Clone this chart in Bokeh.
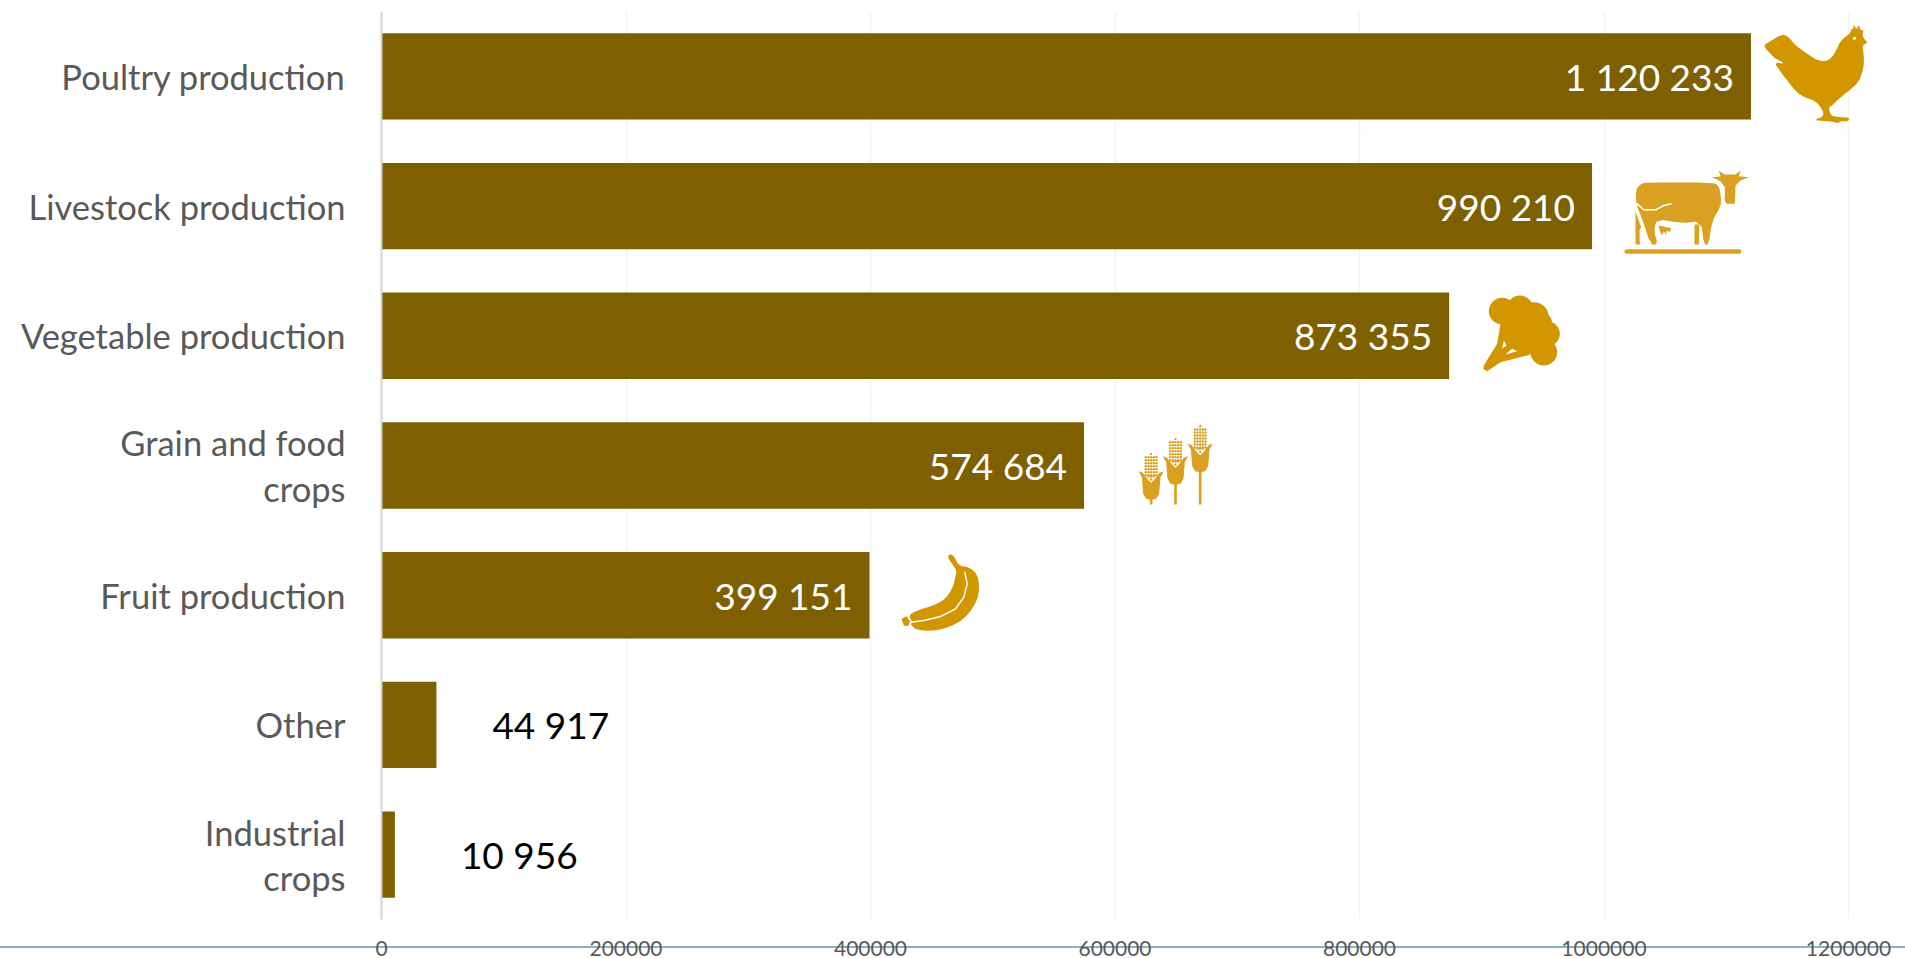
from bokeh.plotting import figure
from bokeh.models import FactorRange, Range1d, FixedTicker, BasicTickFormatter, ColumnDataSource
from bokeh.core.properties import value
from bokeh.embed import file_html
from bokeh.resources import INLINE

categories = ["Poultry production", "Livestock production", "Vegetable production",
              "Grain and food\ncrops", "Fruit production", "Other", "Industrial\ncrops"]
values = [1120233, 990210, 873355, 574684, 399151, 44917, 10956]
tick_values = [0, 200000, 400000, 600000, 800000, 1000000, 1200000]

BAR = "#7f6000"
GOLD = "#d29600"
GOLD2 = "#d9a021"
GREY = "#595959"
RULE = "#86b3c0"
FONT = "Lato"

W, H = 1905, 958
F_L, F_R, F_T, F_B = 381, W, 11, 919
PX_PER_UNIT = (1848 - 381) / tick_values[-1]

p = figure(width=W, height=H, output_backend="svg", toolbar_location=None,
           x_range=Range1d(0, (F_R - F_L) / PX_PER_UNIT),
           y_range=FactorRange(factors=list(reversed(categories))),
           min_border_left=F_L, min_border_right=0, min_border_top=F_T, min_border_bottom=H - F_B,
           outline_line_color=None, background_fill_color="white", border_fill_alpha=0)
p.y_range.range_padding = 0
p.y_range.factor_padding = 0
p.extra_x_ranges = {"px": Range1d(F_L, F_R)}

# the long rule under the plot runs across the whole page, behind the tick labels
p.styles = {"background": f"linear-gradient(to bottom, white 946px, {RULE} 946px, {RULE} 948px, white 948px)"}

# x axis
ax = p.xaxis[0]
ax.ticker = FixedTicker(ticks=tick_values)
ax.formatter = BasicTickFormatter(use_scientific=False)
ax.axis_line_color = None
ax.major_tick_line_color = None
ax.minor_tick_line_color = None
ax.major_label_text_font = FONT
ax.major_label_text_font_size = "21px"
ax.major_label_text_color = GREY
ax.major_label_text_line_height = 0.8
ax.major_label_standoff = 15

# y axis
ay = p.yaxis[0]
ay.axis_line_color = "#d4d4d4"
ay.axis_line_width = 2
ay.major_tick_line_color = None
ay.minor_tick_line_color = None
ay.major_label_text_font = FONT
ay.major_label_text_font_size = "34.5px"
ay.major_label_text_color = GREY
ay.major_label_text_line_height = 1.1
ay.major_label_standoff = 30

p.xgrid.ticker = FixedTicker(ticks=tick_values)
p.xgrid.grid_line_color = "#f2f2f2"
p.xgrid.grid_line_width = 1.5
p.ygrid.grid_line_color = None

# bars
p.hbar(y=categories, right=values, left=0, height=0.666, color=BAR, line_color=None)

# data labels
labels = [f"{v:,}".replace(",", " ") for v in values]
inside = ColumnDataSource(dict(y=categories[:5], x=values[:5], t=labels[:5]))
p.text(x="x", y="y", text="t", source=inside, x_offset=-17, y_offset=0, text_align="right",
       text_baseline="middle", text_color="white", text_font=value(FONT), text_font_size="37px")
outside = ColumnDataSource(dict(y=categories[5:], x=values[5:], t=labels[5:], o=[56, 66]))
p.text(x="x", y="y", text="t", source=outside, x_offset="o", y_offset=0, text_align="left",
       text_baseline="middle", text_color="black", text_font=value(FONT), text_font_size="37px")


# pictograms: outlines traced in zoomed reference coordinates
def yy(py):
    return len(categories) * (F_B - py) / (F_B - F_T)


def smooth(pts, n=1):
    for _ in range(n):
        out = []
        for i, (a, b) in enumerate(pts):
            c, d = pts[(i + 1) % len(pts)]
            out += [(0.75 * a + 0.25 * c, 0.75 * b + 0.25 * d), (0.25 * a + 0.75 * c, 0.25 * b + 0.75 * d)]
        pts = out
    return pts


def poly(pts, ox, oy, color):
    p.patch([a / 3 + ox for a, _ in pts], [yy(b / 3 + oy) for _, b in pts], color=color, line_color=None,
            x_range_name="px")


def stroke(pts, ox, oy, color, width):
    p.line([a / 3 + ox for a, _ in pts], [yy(b / 3 + oy) for _, b in pts], line_color=color, line_width=width,
           line_cap="round", x_range_name="px")


def dots(pts, ox, oy, color, size):
    p.scatter([a / 3 + ox for a, _ in pts], [yy(b / 3 + oy) for _, b in pts], size=size, color=color,
              line_color=None, x_range_name="px")


# hen
o = (1600, 0)
poly(smooth([(488, 135), (510, 122), (545, 100), (565, 110), (585, 135), (620, 160), (655, 182), (685, 180),
      (705, 155), (720, 120), (750, 98), (752, 85), (757, 88), (760, 72), (768, 88), (775, 72), (780, 90),
      (790, 88), (785, 108), (803, 128), (785, 133), (790, 165), (790, 200), (775, 245), (740, 275),
      (715, 295), (695, 315), (685, 320), (690, 345), (715, 350), (745, 350), (745, 362), (718, 362),
      (715, 368), (690, 362), (672, 362), (640, 358), (670, 348), (665, 325), (645, 302), (600, 285),
      (575, 260), (545, 220), (520, 185), (555, 190), (525, 175), (505, 155)]), *o, GOLD)
dots([(762, 113)], *o, "white", 3)

# cow
poly(smooth([(105, 570), (120, 550), (140, 546), (335, 546), (355, 555), (362, 590), (360, 620), (335, 660),
      (325, 732), (310, 732), (302, 662), (240, 668), (170, 655), (160, 690), (172, 732), (150, 732),
      (125, 655), (108, 615)]), *o, GOLD2)
poly([(105, 632), (122, 680), (117, 690), (118, 732), (105, 732)], *o, GOLD2)
poly([(282, 672), (296, 672), (296, 732), (282, 732)], *o, GOLD2)
poly([(175, 675), (212, 683), (208, 695), (200, 690), (196, 702), (190, 692), (184, 704), (178, 692)], *o, GOLD2)
poly([(72, 750), (76, 746), (418, 746), (422, 750), (422, 756), (418, 760), (76, 760), (72, 756)], *o, GOLD2)
poly([(335, 530), (360, 528), (355, 510), (372, 522), (405, 522), (420, 510), (415, 527), (445, 530),
      (420, 540), (405, 555), (403, 610), (378, 610), (373, 600), (373, 560), (360, 542)], *o, GOLD2)
stroke([(110, 610), (130, 628), (165, 628), (190, 615), (212, 610)], *o, "white", 1.5)

# broccoli
o = (1100, 280)
poly([(1200, 130), (1190, 190), (1150, 255), (1148, 265), (1160, 272), (1200, 245), (1290, 222), (1300, 170)],
     *o, GOLD)
for cx, cy, r in [(1205, 92, 40), (1258, 85, 40), (1300, 110, 45), (1320, 130, 35), (1340, 160, 38),
                  (1330, 215, 40), (1270, 150, 70)]:
    dots([(cx, cy)], *o, GOLD, 2 * r / 3)
poly([(1210, 180), (1205, 205), (1218, 195)], *o, "white")
poly([(1235, 205), (1215, 222), (1250, 212)], *o, "white")

# corn stalks
for cx, t in [(152, 515), (225, 470), (299, 432)]:
    poly([(cx + a, t + b) for a, b in [(-38, 57), (-25, 62), (-12, 80), (0, 92), (12, 80), (25, 62), (38, 57),
                                       (28, 75), (24, 125), (15, 140), (0, 143), (-15, 140), (-24, 125),
                                       (-28, 75)]], *o, GOLD2)
    poly([(cx - 4, t + 140), (cx + 4, t + 140), (cx + 4, 672), (cx - 4, 672)], *o, GOLD2)
    cob = [(cx, t + 5)]
    for row in range(15, 70, 9):
        cob += [(cx + c, t + row) for c in (-16, -8, 0, 8, 16)]
    cob += [(cx + c, t + 73) for c in (-8, 0, 8)] + [(cx, t + 82)]
    dots(cob, *o, GOLD2, 2.4)

# banana
o = (860, 540)
poly(smooth([(260, 48), (272, 40), (282, 50), (295, 75), (325, 80), (350, 100), (357, 140), (350, 180), (325, 220),
      (290, 250), (240, 268), (190, 272), (155, 262), (142, 225), (175, 208), (220, 195), (255, 175),
      (275, 145), (285, 110), (288, 90), (278, 75)]), *o, GOLD)
stroke([(313, 95), (320, 130), (310, 170), (285, 205), (240, 228), (190, 240), (152, 245)], *o, "white", 1.5)
stroke([(142, 225), (152, 243), (147, 260)], *o, "white", 1.5)
poly([(123, 235), (138, 227), (148, 243), (143, 257), (130, 255)], *o, GOLD)

open("out.html", "w").write(file_html(p, INLINE))
